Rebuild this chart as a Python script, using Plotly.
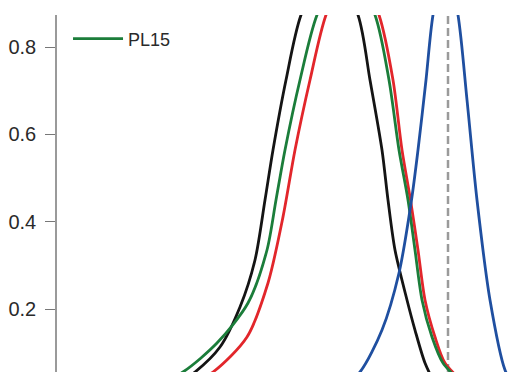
import plotly.graph_objects as go

# x positions in arbitrary spectral units (0 = y-axis position), y = normalized intensity
black_x = [108, 138, 163, 183, 198, 208, 216, 229, 244, 272,
           301, 313, 325, 331, 338, 350, 358, 368, 380]
black_y = [0.012, 0.0557, 0.1129, 0.2046, 0.3123, 0.4497, 0.5643, 0.7246, 0.8735, 1.0,
           0.8735, 0.7246, 0.5643, 0.4497, 0.3352, 0.2207, 0.1519, 0.0763, 0.0190]

green_x = [91, 126, 160, 191, 210, 219, 228, 243, 260, 289,
           318, 332, 342, 351, 358, 365, 375, 386, 405]
green_y = [0.0144, 0.0557, 0.122, 0.2137, 0.3352, 0.4497, 0.5643, 0.7246, 0.8735, 1.0,
           0.8735, 0.7246, 0.5643, 0.4497, 0.3352, 0.2207, 0.1359, 0.0763, 0.0305]

red_x = [121, 156, 190, 211, 226, 238, 253, 269, 295.5,
         322, 336, 345, 353.5, 361, 368, 378, 388, 407]
red_y = [0.0144, 0.0557, 0.1359, 0.2596, 0.4110, 0.5643, 0.7246, 0.8735, 1.0,
         0.8735, 0.7246, 0.5643, 0.4497, 0.3352, 0.2207, 0.1359, 0.0763, 0.0305]

blue_x = [281, 303, 325, 342, 354.5, 361, 369, 376, 388.5,
          401, 410, 420, 433, 448, 458]
blue_y = [0.0144, 0.0557, 0.1519, 0.2825, 0.4497, 0.5643, 0.7246, 0.8735, 1.0,
          0.8735, 0.679, 0.4497, 0.2207, 0.0603, 0.019]

marker_x = 391  # dashed reference line position

y_ticks = [0.2, 0.4, 0.6, 0.8]
y_tick_text = ["0.2", "0.4", "0.6", "0.8"]
y_range = [0.0557, 0.8735]
x_range = [0, 467]

line_w = 2.8
smooth = 0.8
fig = go.Figure()
fig.add_trace(go.Scatter(x=black_x, y=black_y, mode="lines",
                         line=dict(color="#141414", width=line_w, shape="spline", smoothing=smooth), showlegend=False))
fig.add_trace(go.Scatter(x=red_x, y=red_y, mode="lines",
                         line=dict(color="#e2262b", width=line_w, shape="spline", smoothing=smooth), showlegend=False))
fig.add_trace(go.Scatter(x=green_x, y=green_y, mode="lines", name="PL15",
                         line=dict(color="#1b7d3a", width=line_w, shape="spline", smoothing=smooth), showlegend=True))
fig.add_trace(go.Scatter(x=blue_x, y=blue_y, mode="lines",
                         line=dict(color="#1f4fa0", width=line_w, shape="spline", smoothing=smooth), showlegend=False))

fig.add_vline(x=marker_x, line=dict(color="#9a9a9a", width=2.5, dash="8px,4px"), layer="below")

# page body has an 8px default margin, so the figure is sized to fill the rest of the window
fig.update_layout(
    width=516, height=364,
    margin=dict(l=49, r=0, t=7, b=0, autoexpand=False),
    paper_bgcolor="white", plot_bgcolor="white",
    font=dict(family="Liberation Sans, Arial, sans-serif", size=20, color="#2a2a2a"),
    showlegend=True,
    legend=dict(x=0.0236, y=0.985, xanchor="left", yanchor="top", bgcolor="rgba(0,0,0,0)",
                font=dict(size=18, color="#2a2a2a"), itemwidth=50),
    xaxis=dict(range=x_range, visible=False, fixedrange=True, automargin=False),
    yaxis=dict(range=y_range, tickvals=y_ticks, ticktext=y_tick_text, automargin=False,
               showgrid=False, zeroline=False, showline=True, linecolor="#9a9a9a", linewidth=1.5,
               ticks="outside", ticklen=10, tickcolor="#777777", tickwidth=1, ticklabelstandoff=5,
               tickfont=dict(size=20, color="#2a2a2a")),
)

fig.write_html("out.html")
